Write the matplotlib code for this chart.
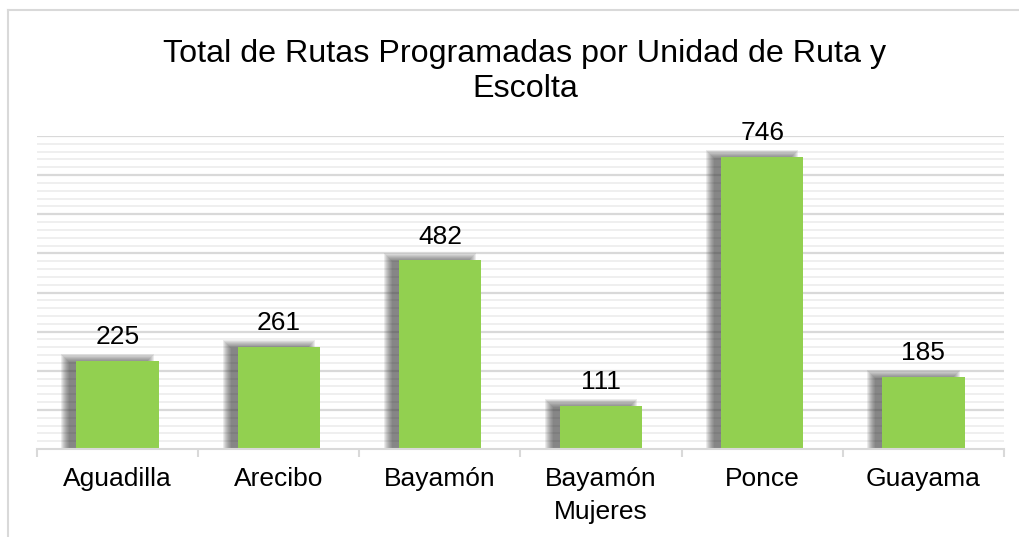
import numpy as np
import matplotlib
matplotlib.use('Agg')
import matplotlib.pyplot as plt
from matplotlib.lines import Line2D

plt.rcParams['font.family'] = ['Liberation Sans', 'DejaVu Sans']

categories = ['Aguadilla', 'Arecibo', 'Bayamón', 'Bayamón\nMujeres', 'Ponce', 'Guayama']
values = [225, 261, 482, 111, 746, 185]
title = 'Total de Rutas Programadas por Unidad de Ruta y\nEscolta'

green = '#92d050'
x = np.arange(len(categories))
barw = 0.51

fig = plt.figure(figsize=(10.2, 5.37), dpi=100)
ax = fig.add_axes([37/1020, 1 - 449/537, (1004 - 37)/1020, (449 - 136)/537])

# outer frame (only top/left visible in the reference)
fig.add_artist(Line2D([8/1020, 8/1020], [0, 1 - 10/537], color='#d9d9d9', lw=1.5))
fig.add_artist(Line2D([8/1020, 1], [1 - 10/537, 1 - 10/537], color='#d9d9d9', lw=1.5))

ax.set_ylim(0, 800)
ax.set_xlim(-0.5, len(categories) - 0.5)
for y in np.arange(20, 801, 20):
    major = y % 100 == 0
    ax.axhline(y, color='#d9d9d9' if major else '#eeeeee', lw=1.6 if major else 1.3, zorder=0)

# soft shadow: bar shifted left/up, stacked translucent layers for blur
pxx = (1004 - 37) / 6.0     # px per x unit
pxy = (449 - 136) / 800.0   # px per y unit
for g in np.linspace(5, -3, 9):
    left = x - barw / 2 - (10 + g) / pxx
    w = barw + 2 * g / pxx
    top = [v + (2 + g) / pxy for v in values]
    ax.bar(left, [t + 10 for t in top], width=w, bottom=-10, align='edge',
           color='#404040', alpha=0.1, lw=0, zorder=1)

ax.bar(x, values, width=barw, color=green, lw=0, zorder=3)

for xi, v in zip(x, values):
    ax.annotate(str(v), (xi, v), xytext=(0, 12), textcoords='offset points',
                ha='center', va='baseline', fontsize=19, color='black', zorder=4)

for s in ['top', 'right', 'left']:
    ax.spines[s].set_visible(False)
ax.spines['bottom'].set_color('#d9d9d9')
ax.spines['bottom'].set_linewidth(1.5)
ax.spines['bottom'].set_zorder(5)
ax.set_yticks([])
ax.set_xticks(np.arange(-0.5, len(categories), 1.0))
ax.set_xticklabels([])
ax.tick_params(axis='x', length=6, width=1.5, color='#d9d9d9')
ax.set_xticks(x, minor=True)
ax.set_xticklabels(categories, minor=True, fontsize=19, linespacing=1.45)
ax.tick_params(axis='x', which='minor', length=0, pad=13)

fig.text(525/1020, 1 - 97/537, title, ha='center', va='baseline', fontsize=23.2,
         linespacing=1.2, multialignment='center')

fig.savefig('out.png', dpi=100)
